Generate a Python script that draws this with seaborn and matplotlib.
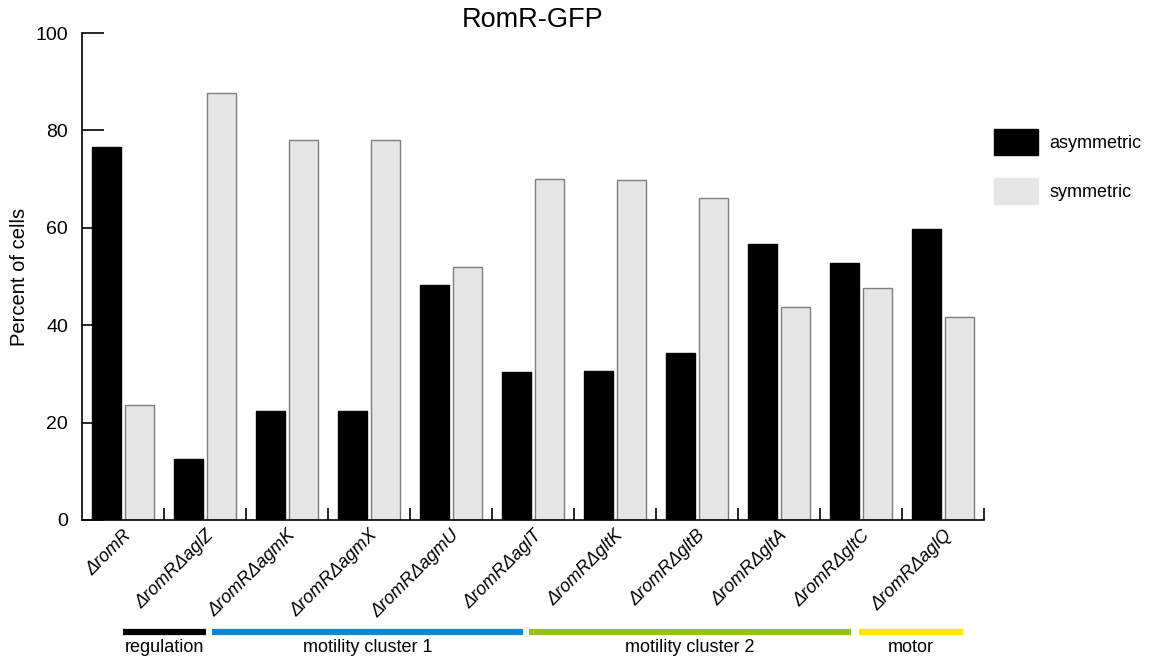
import matplotlib
matplotlib.use("Agg")
import matplotlib.pyplot as plt
import matplotlib.transforms as mtransforms
from matplotlib.patches import Patch
import seaborn as sns
import pandas as pd

strains = ["ΔromR", "ΔromRΔaglZ", "ΔromRΔagmK", "ΔromRΔagmX", "ΔromRΔagmU",
           "ΔromRΔaglT", "ΔromRΔgltK", "ΔromRΔgltB", "ΔromRΔgltA", "ΔromRΔgltC",
           "ΔromRΔaglQ"]
asymmetric = [76.6, 12.5, 22.4, 22.4, 48.3, 30.4, 30.6, 34.3, 56.7, 52.8, 59.8]
symmetric = [23.6, 87.7, 78.0, 78.0, 52.0, 70.0, 69.8, 66.1, 43.7, 47.6, 41.7]
y_ticks = [0, 20, 40, 60, 80, 100]

groups = ["regulation", "motility cluster 1", "motility cluster 2", "motor"]
group_spans = [(0.0, 1.01), (1.08, 4.88), (4.95, 8.88), (8.98, 10.24)]
group_colors = ["#000000", "#0a88d0", "#96c11f", "#ffe600"]

sns.set_style("white")
plt.rcParams["font.family"] = ["Liberation Sans", "DejaVu Sans"]
for k in ["text.color", "axes.labelcolor", "xtick.color", "ytick.color"]:
    plt.rcParams[k] = "black"

df = pd.DataFrame({
    "strain": strains * 2,
    "percent": asymmetric + symmetric,
    "type": ["asymmetric"] * len(strains) + ["symmetric"] * len(strains),
})

fig = plt.figure(figsize=(11.51, 6.59), dpi=100)
ax = fig.add_axes([82 / 1151, 1 - 520 / 659, (984 - 82) / 1151, (520 - 33) / 659])

palette = {"asymmetric": "#000000", "symmetric": "#e6e6e6"}
sns.barplot(data=df, x="strain", y="percent", hue="type", order=strains,
            palette=palette, width=0.8, gap=0.1, ax=ax, legend=False,
            saturation=1)

for bar in ax.patches:
    fc = bar.get_facecolor()
    if fc[0] < 0.5:
        bar.set_edgecolor("black")
    else:
        bar.set_edgecolor("#7f7f7f")
    bar.set_linewidth(1)

ax.set_xlim(-0.5, 10.5)
ax.set_ylim(0, 100)
ax.set_yticks(y_ticks)
ax.set_yticklabels([str(t) for t in y_ticks], fontsize=14)
ax.tick_params(axis="y", left=True, direction="in", length=16, width=1.2, pad=10,
               color="black", labelcolor="black")

ax.set_xticks(range(len(strains)))
ax.set_xticklabels(strains, rotation=45, ha="right", rotation_mode="anchor",
                   fontsize=13, style="italic")
ax.tick_params(axis="x", which="major", bottom=True, length=0, pad=5, labelcolor="black")
ax.set_xticks([i + 0.5 for i in range(len(strains))], minor=True)
ax.tick_params(axis="x", which="minor", bottom=True, direction="in", length=9,
               width=1.2, color="black")

for side in ["top", "right"]:
    ax.spines[side].set_visible(False)
for side in ["left", "bottom"]:
    ax.spines[side].set_color("black")
    ax.spines[side].set_linewidth(1.2)

ax.set_xlabel("")
ax.set_ylabel("Percent of cells", fontsize=14.5, labelpad=5)
ax.set_title("RomR-GFP", fontsize=19.5, pad=1)

handles = [Patch(facecolor="#000000", edgecolor="#000000", label="asymmetric"),
           Patch(facecolor="#e6e6e6", edgecolor="#e6e6e6", label="symmetric")]
fig.legend(handles=handles, loc="upper left", bbox_to_anchor=(978 / 1151, 1 - 113 / 659),
           frameon=False, fontsize=13, handlelength=2.45, handleheight=1.8,
           labelspacing=1.3, handletextpad=0.6)

trans = mtransforms.blended_transform_factory(ax.transData, fig.transFigure)
for name, (x0, x1), col in zip(groups, group_spans, group_colors):
    ax.plot([x0, x1], [1 - 632 / 659] * 2, color=col, lw=4.5, transform=trans,
            clip_on=False, solid_capstyle="butt")
    ax.text((x0 + x1) / 2, 1 - 648 / 659, name, transform=trans, ha="center",
            va="center", fontsize=13)

fig.savefig("out.png", dpi=100)
